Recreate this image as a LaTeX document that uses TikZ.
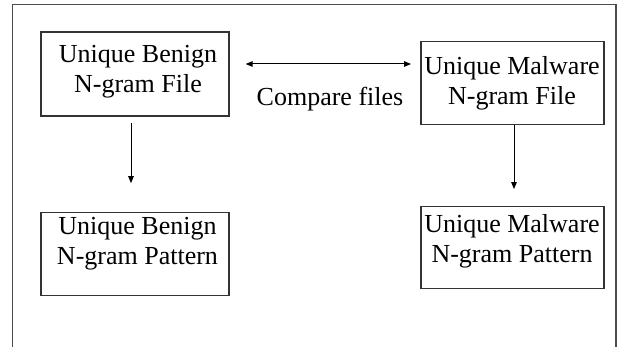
\documentclass[tikz,border=0pt]{standalone}
\usepackage{fontspec}
\setmainfont{Liberation Serif}
\usetikzlibrary{arrows.meta,calc}
\begin{document}
\begin{tikzpicture}[x=1pt,y=-1pt,
  boxst/.style={draw=black!80,line width=1.2pt,inner sep=0pt},
  txt/.style={font=\fontsize{26}{30}\selectfont,align=center,inner sep=0pt},
  arr/.style={line width=1pt,-{Triangle[length=7pt,width=5.5pt]}},
  darr/.style={line width=1pt,{Triangle[length=7pt,width=5.5pt]}-{Triangle[length=7pt,width=5.5pt]}},
  frame/.style={draw=black!70,line width=1.3pt}]
\useasboundingbox (0,0) rectangle (621,347);
\draw[frame] (12.7,347) -- (12.7,4.7) -- (616,4.7) -- (616,347);
\node[boxst,minimum width=188pt,minimum height=84pt] (b1) at (135,74) {};
\node[boxst,minimum width=183pt,minimum height=83pt] (b2) at (512.5,82.7) {};
\node[boxst,minimum width=188pt,minimum height=83pt] (b3) at (135,254.3) {};
\node[boxst,minimum width=183pt,minimum height=82pt] (b4) at (512.5,247.7) {};
\node[txt] (t1) at (138,72.1) {Unique Benign\\N-gram File};
\node[txt] (t2) at (512,83.1) {Unique Malware\\N-gram File};
\node[txt] (t3) at (137.5,244) {Unique Benign\\N-gram Pattern};
\node[txt] (t4) at (512,241.5) {Unique Malware\\N-gram Pattern};
\node[txt,anchor=base] (cmp) at (330,106) {Compare files};
\coordinate (ymid) at (0,64);
\draw[darr] ($(b1.east |- ymid)+(16,0)$) -- ($(b2.west |- ymid)+(-9.3,0)$);
\draw[arr] ([xshift=-4pt,yshift=-6.7pt]b1.south) -- ([xshift=-4pt,yshift=29pt]b3.north);
\draw[arr] ([xshift=1.5pt]b2.south) -- ([xshift=1.5pt,yshift=17pt]b4.north);
\end{tikzpicture}
\end{document}
